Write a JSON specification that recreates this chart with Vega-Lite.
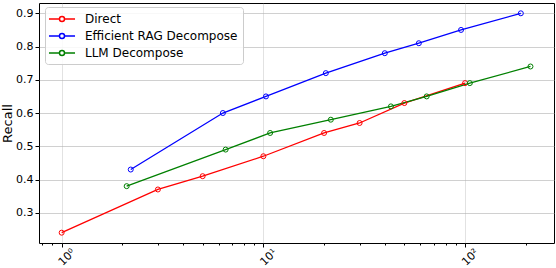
{
  "$schema": "https://vega.github.io/schema/vega-lite/v6.json",
  "width": 515,
  "height": 240,
  "autosize": {"type": "none"},
  "padding": {"left": 39, "top": 3, "right": 2, "bottom": 25},
  "config": {
    "font": "DejaVu Sans",
    "view": {"stroke": "#000000", "strokeWidth": 1},
    "axis": {"labelFont": "DejaVu Sans", "titleFont": "DejaVu Sans", "labelFontSize": 11, "titleFontSize": 13, "titleFontWeight": "normal", "labelColor": "#000", "titleColor": "#000", "tickColor": "#000", "domain": false, "gridColor": "#b0b0b0", "gridOpacity": 0.6, "gridWidth": 1}
  },
  "data": {
    "values": [
      {"method": "Direct", "x": 1, "recall": 0.24},
      {"method": "Direct", "x": 3, "recall": 0.37},
      {"method": "Direct", "x": 5, "recall": 0.41},
      {"method": "Direct", "x": 10, "recall": 0.47},
      {"method": "Direct", "x": 20, "recall": 0.54},
      {"method": "Direct", "x": 30, "recall": 0.57},
      {"method": "Direct", "x": 50, "recall": 0.63},
      {"method": "Direct", "x": 100, "recall": 0.69},
      {"method": "Efficient RAG Decompose", "x": 2.2, "recall": 0.43},
      {"method": "Efficient RAG Decompose", "x": 6.3, "recall": 0.60},
      {"method": "Efficient RAG Decompose", "x": 10.3, "recall": 0.65},
      {"method": "Efficient RAG Decompose", "x": 20.4, "recall": 0.72},
      {"method": "Efficient RAG Decompose", "x": 40, "recall": 0.78},
      {"method": "Efficient RAG Decompose", "x": 59, "recall": 0.81},
      {"method": "Efficient RAG Decompose", "x": 95.5, "recall": 0.85},
      {"method": "Efficient RAG Decompose", "x": 189, "recall": 0.90},
      {"method": "LLM Decompose", "x": 2.1, "recall": 0.38},
      {"method": "LLM Decompose", "x": 6.5, "recall": 0.49},
      {"method": "LLM Decompose", "x": 10.8, "recall": 0.54},
      {"method": "LLM Decompose", "x": 21.6, "recall": 0.58},
      {"method": "LLM Decompose", "x": 42.9, "recall": 0.62},
      {"method": "LLM Decompose", "x": 64.5, "recall": 0.65},
      {"method": "LLM Decompose", "x": 105.6, "recall": 0.69},
      {"method": "LLM Decompose", "x": 211, "recall": 0.74}
    ]
  },
  "encoding": {
    "x": {
      "field": "x", "type": "quantitative",
      "scale": {"type": "log", "domain": [0.772, 276], "nice": false},
      "axis": {
        "title": null,
        "values": [0.8, 0.9, 1, 2, 3, 4, 5, 6, 7, 8, 9, 10, 20, 30, 40, 50, 60, 70, 80, 90, 100, 200],
        "labelExpr": "datum.value == 1 ? '10⁰' : datum.value == 10 ? '10¹' : datum.value == 100 ? '10²' : ''",
        "labelAngle": -45,
        "labelAlign": "center",
        "labelBaseline": "middle",
        "labelPadding": 10,
        "labelOffset": 5,
        "labelFontSize": 11,
        "labelOverlap": false,
        "labelBound": false,
        "labelFlush": false,
        "tickSize": {"condition": {"test": "datum.value == 1 || datum.value == 10 || datum.value == 100", "value": 4}, "value": 2},
        "gridOpacity": {"condition": {"test": "datum.value == 1 || datum.value == 10 || datum.value == 100", "value": 0.6}, "value": 0}
      }
    },
    "y": {
      "field": "recall", "type": "quantitative",
      "scale": {"domain": [0.209, 0.931], "nice": false, "zero": false},
      "axis": {"title": "Recall", "values": [0.3, 0.4, 0.5, 0.6, 0.7, 0.8, 0.9], "format": ".1f", "tickSize": 4, "labelPadding": 2, "titlePadding": 1}
    },
    "color": {
      "field": "method", "type": "nominal",
      "scale": {"domain": ["Direct", "Efficient RAG Decompose", "LLM Decompose"], "range": ["#ff0000", "#0000ff", "#008000"]},
      "legend": {
        "title": null,
        "orient": "none",
        "legendX": 6,
        "legendY": 4,
        "fillColor": "rgba(255,255,255,0.85)",
        "strokeColor": "#cccccc",
        "cornerRadius": 3,
        "padding": 5,
        "labelFontSize": 12,
        "labelFont": "DejaVu Sans",
        "labelColor": "#000",
        "symbolType": "M-2.17,0H-0.42A0.42,0.42 0 1 1 0.42,0A0.42,0.42 0 1 1 -0.42,0M0.42,0H2.17",
        "symbolSize": 144,
        "symbolOffset": 5,
        "symbolStrokeWidth": 1.5,
        "symbolFillColor": "transparent",
        "labelOffset": 16,
        "rowPadding": 4
      }
    }
  },
  "layer": [
    {"mark": {"type": "line", "strokeWidth": 1.3}},
    {"mark": {"type": "point", "filled": false, "size": 25, "strokeWidth": 1, "opacity": 1}}
  ]
}
